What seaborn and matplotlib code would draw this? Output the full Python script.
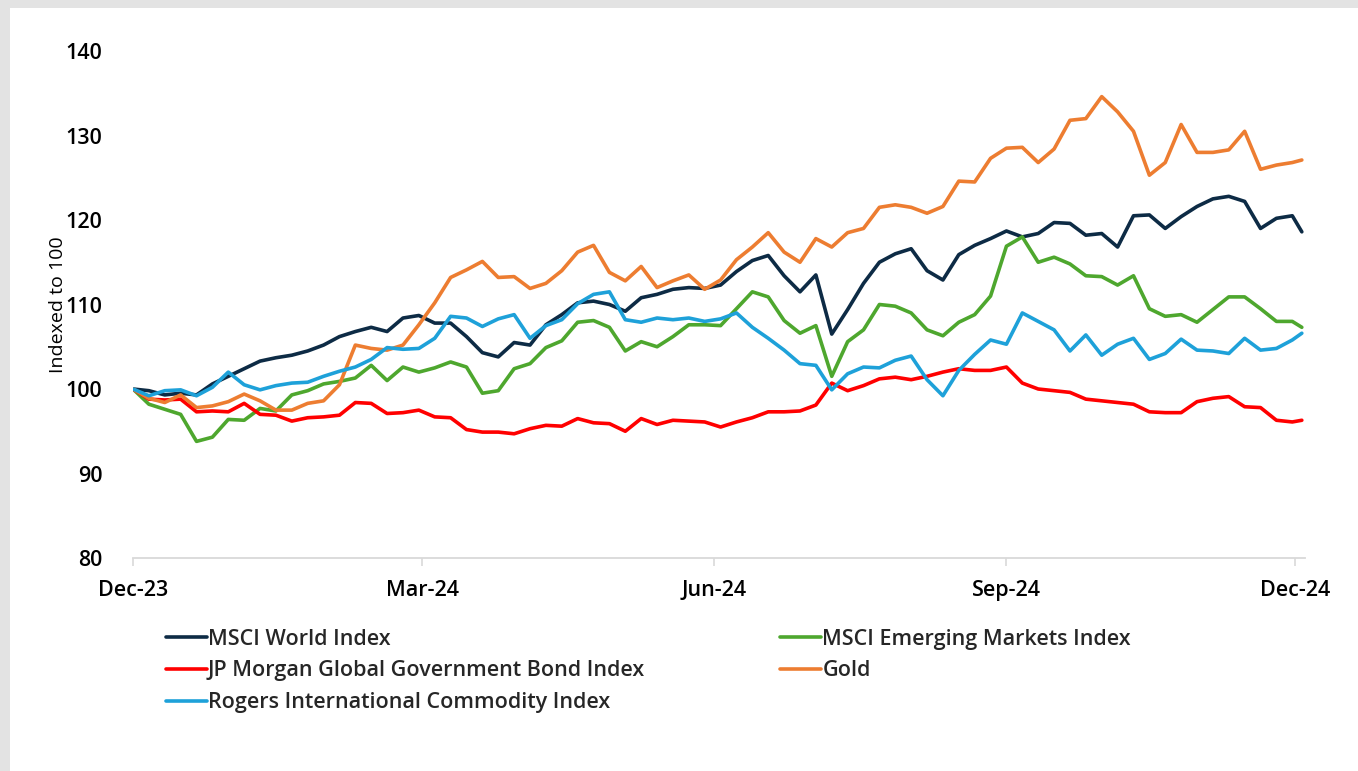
import numpy as np
import pandas as pd
import matplotlib
matplotlib.use("Agg")
import matplotlib.pyplot as plt
import matplotlib.dates as mdates
from matplotlib.patches import Rectangle
import seaborn as sns

# sample dates: every 5 days from the start, last point at year end
dates = list(pd.date_range("2023-12-29", periods=74, freq="5D")) + [pd.Timestamp("2024-12-31")]

msci_world = [100.0, 99.8, 99.3, 99.5, 99.3, 100.6, 101.5, 102.4, 103.3, 103.7,
              104.0, 104.5, 105.2, 106.2, 106.8, 107.3, 106.8, 108.4, 108.7, 107.8,
              107.8, 106.2, 104.3, 103.8, 105.5, 105.2, 107.6, 108.8, 110.2, 110.4,
              110.0, 109.2, 110.8, 111.2, 111.8, 112.0, 111.9, 112.3, 113.9, 115.2,
              115.8, 113.4, 111.5, 113.5, 106.5, 109.4, 112.5, 115.0, 116.0, 116.6,
              114.0, 112.9, 115.9, 117.0, 117.8, 118.7, 118.0, 118.4, 119.7, 119.6,
              118.2, 118.4, 116.8, 120.5, 120.6, 119.0, 120.4, 121.6, 122.5, 122.8,
              122.2, 119.0, 120.2, 120.5, 118.6]

msci_em = [100.0, 98.2, 97.6, 97.0, 93.8, 94.3, 96.4, 96.3, 97.7, 97.4,
           99.3, 99.8, 100.6, 100.9, 101.3, 102.8, 101.0, 102.6, 102.0, 102.5,
           103.2, 102.6, 99.5, 99.8, 102.4, 103.0, 104.9, 105.7, 107.9, 108.1,
           107.3, 104.5, 105.6, 105.0, 106.2, 107.6, 107.6, 107.5, 109.5, 111.5,
           110.9, 108.1, 106.6, 107.5, 101.5, 105.6, 107.0, 110.0, 109.8, 109.0,
           107.0, 106.3, 107.9, 108.8, 111.0, 116.9, 118.0, 115.0, 115.6, 114.8,
           113.4, 113.3, 112.3, 113.4, 109.5, 108.6, 108.8, 107.9, 109.4, 110.9,
           110.9, 109.5, 108.0, 108.0, 107.3]

jpm_bonds = [100.0, 98.8, 98.7, 98.8, 97.3, 97.4, 97.3, 98.3, 97.0, 96.9,
             96.2, 96.6, 96.7, 96.9, 98.4, 98.3, 97.1, 97.2, 97.5, 96.7,
             96.6, 95.2, 94.9, 94.9, 94.7, 95.3, 95.7, 95.6, 96.5, 96.0,
             95.9, 95.0, 96.5, 95.8, 96.3, 96.2, 96.1, 95.5, 96.1, 96.6,
             97.3, 97.3, 97.4, 98.1, 100.7, 99.8, 100.4, 101.2, 101.4, 101.1,
             101.5, 102.0, 102.4, 102.2, 102.2, 102.6, 100.7, 100.0, 99.8, 99.6,
             98.8, 98.6, 98.4, 98.2, 97.3, 97.2, 97.2, 98.5, 98.9, 99.1,
             97.9, 97.8, 96.3, 96.1, 96.3]

gold = [100.0, 98.9, 98.4, 99.3, 97.8, 98.0, 98.5, 99.4, 98.6, 97.5,
        97.5, 98.3, 98.6, 100.5, 105.2, 104.8, 104.6, 105.2, 107.6, 110.2,
        113.2, 114.1, 115.1, 113.2, 113.3, 111.9, 112.5, 114.0, 116.2, 117.0,
        113.8, 112.8, 114.5, 112.0, 112.8, 113.5, 111.8, 112.9, 115.3, 116.8,
        118.5, 116.2, 115.0, 117.8, 116.8, 118.5, 119.0, 121.5, 121.8, 121.5,
        120.8, 121.6, 124.6, 124.5, 127.3, 128.5, 128.6, 126.8, 128.4, 131.8,
        132.0, 134.6, 132.8, 130.5, 125.3, 126.8, 131.3, 128.0, 128.0, 128.3,
        130.5, 126.0, 126.5, 126.8, 127.1]

rogers = [100.0, 99.2, 99.8, 99.9, 99.2, 100.2, 102.0, 100.5, 99.9, 100.4,
          100.7, 100.8, 101.5, 102.1, 102.6, 103.5, 104.9, 104.7, 104.8, 106.0,
          108.6, 108.4, 107.4, 108.3, 108.8, 106.0, 107.5, 108.2, 110.1, 111.2,
          111.5, 108.2, 107.9, 108.4, 108.2, 108.4, 108.0, 108.3, 109.0, 107.3,
          106.0, 104.6, 103.0, 102.8, 99.9, 101.8, 102.6, 102.5, 103.4, 103.9,
          101.1, 99.2, 102.2, 104.1, 105.8, 105.3, 109.0, 108.0, 107.0, 104.5,
          106.4, 104.0, 105.3, 106.0, 103.5, 104.2, 105.9, 104.6, 104.5, 104.2,
          106.0, 104.6, 104.8, 105.8, 106.6]

series_names = ["MSCI World Index", "MSCI Emerging Markets Index",
                "JP Morgan Global Government Bond Index", "Gold",
                "Rogers International Commodity Index"]
series_values = [msci_world, msci_em, jpm_bonds, gold, rogers]
colors = ["#0d2b45", "#4ea72e", "#ff0000", "#ed7d31", "#1ea1d9"]

df = pd.concat([pd.DataFrame({"date": dates, "value": v, "series": n})
                for n, v in zip(series_names, series_values)], ignore_index=True)

sns.set_theme(style="white")
plt.rcParams["font.family"] = ["Open Sans", "DejaVu Sans"]

fig = plt.figure(figsize=(13.58, 7.71), dpi=100, facecolor="#e3e3e3")
# white card inside the grey frame (frame on top and left only)
fig.patches.append(Rectangle((10 / 1358, 0), 1, 1 - 8 / 771, transform=fig.transFigure,
                             facecolor="white", edgecolor="none", zorder=-5))

ax = fig.add_axes([133 / 1358, 1 - 558 / 771, (1305 - 133) / 1358, (558 - 51) / 771])
ax.set_facecolor("none")
ax.set_zorder(2)

sns.lineplot(data=df, x="date", y="value", hue="series", hue_order=series_names,
             palette=colors, linewidth=2.6, ax=ax, legend=False)

ax.set_ylim(80, 140)
ax.set_yticks(np.arange(80, 141, 10))
ax.set_xlim(pd.Timestamp("2023-12-29"), pd.Timestamp("2025-01-01"))
ax.xaxis.set_major_locator(mdates.MonthLocator(bymonth=[3, 6, 9, 12], bymonthday=29))
ax.xaxis.set_major_formatter(mdates.DateFormatter("%b-%y"))

for s in ["left", "right", "top"]:
    ax.spines[s].set_visible(False)
ax.spines["bottom"].set_color("#d9d9d9")
ax.spines["bottom"].set_linewidth(1.3)

ax.tick_params(axis="x", which="major", bottom=True, length=5.5, width=1.2,
               color="#d9d9d9", pad=10, labelsize=15.5, labelcolor="black")
ax.tick_params(axis="y", left=False, pad=16, labelsize=15.5, labelcolor="black")
for lab in ax.get_xticklabels() + ax.get_yticklabels():
    lab.set_fontweight("semibold")

ax.set_xlabel("")
ax.set_ylabel("Indexed to 100", fontsize=14, color="black", fontweight="medium")
ax.yaxis.set_label_coords(-0.056, 0.5)
ax.grid(False)

# legend laid out row-wise in two columns
handles = {n: l for n, l in zip(series_names, ax.get_lines())}
order = [series_names[0], series_names[2], series_names[4], series_names[1], series_names[3]]
leg = fig.legend([handles[n] for n in order], order, ncol=2, frameon=False,
                 loc="upper left", bbox_to_anchor=(157 / 1358, 1 - 620 / 771),
                 fontsize=15.5, handlelength=1.9, handletextpad=0.05,
                 columnspacing=6.3, labelspacing=0.5, borderaxespad=0)
for t in leg.get_texts():
    t.set_fontweight("semibold")

fig.savefig("out.png", dpi=100, facecolor=fig.get_facecolor())
